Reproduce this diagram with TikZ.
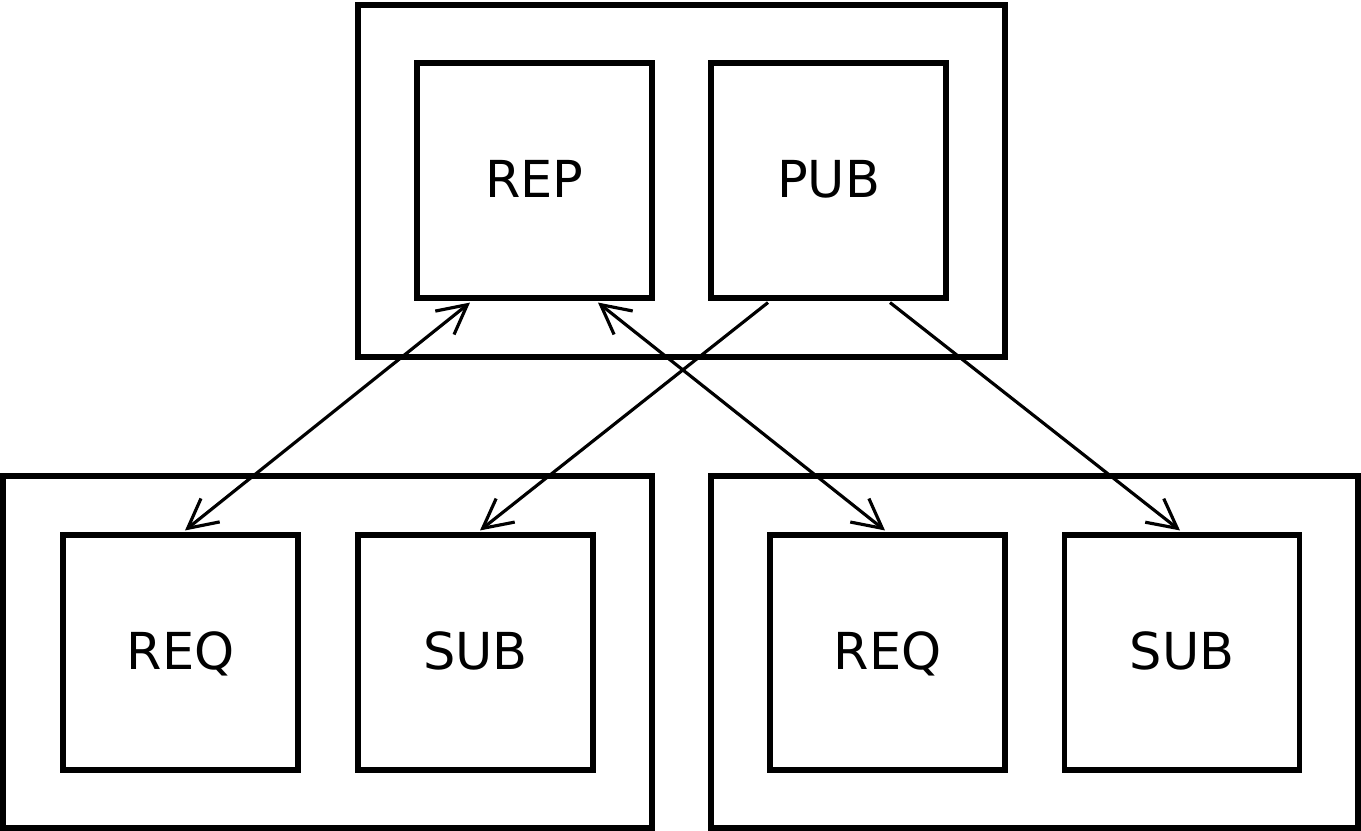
\documentclass[tikz,border=0pt]{standalone}
\usepackage{fontspec}
\setmainfont{DejaVu Sans}
\usetikzlibrary{arrows.meta}
\begin{document}
\begin{tikzpicture}[
  group/.style={draw, line width=1.45pt, rectangle, inner sep=0pt,
    minimum width=#1, minimum height=3.52cm},
  socket/.style={draw, line width=1.45pt, rectangle, inner sep=0pt,
    minimum width=2.35cm, minimum height=2.35cm,
    text height=9.7pt, text depth=0pt,
    font=\fontsize{14.5}{16}\selectfont},
  link/.style={line width=0.9pt,
    -{Straight Barb[length=0.29cm, width=0.30cm]}},
  duplex/.style={line width=0.9pt,
    {Straight Barb[length=0.29cm, width=0.30cm]}-{Straight Barb[length=0.29cm, width=0.30cm]}}
]
\useasboundingbox (0,0) rectangle (13.61,-8.31);

% server process
\node[group=6.47cm] (server) at (6.815,-1.81) {};
\node[socket] (rep) at (5.345,-1.805) {REP};
\node[socket] (pub) at (8.285,-1.805) {PUB};

% client processes
\node[group=6.49cm] (clientA) at (3.275,-6.52) {};
\node[socket] (reqA) at (1.805,-6.525) {REQ};
\node[socket] (subA) at (4.755,-6.525) {SUB};

\node[group=6.47cm] (clientB) at (10.345,-6.52) {};
\node[socket] (reqB) at (8.875,-6.525) {REQ};
\node[socket] (subB) at (11.82,-6.525) {SUB};

% request/reply links
\draw[duplex] ([xshift=-0.645cm, yshift=-0.02cm]rep.south) -- ([xshift=0.045cm, yshift=0.02cm]reqA.north);
\draw[duplex] ([xshift=0.635cm, yshift=-0.02cm]rep.south) -- ([xshift=-0.025cm, yshift=0.02cm]reqB.north);

% publish/subscribe links
\draw[link] ([xshift=-0.605cm, yshift=-0.02cm]pub.south) -- ([xshift=0.045cm, yshift=0.02cm]subA.north);
\draw[link] ([xshift=0.615cm, yshift=-0.02cm]pub.south) -- ([xshift=-0.02cm, yshift=0.02cm]subB.north);
\end{tikzpicture}
\end{document}
